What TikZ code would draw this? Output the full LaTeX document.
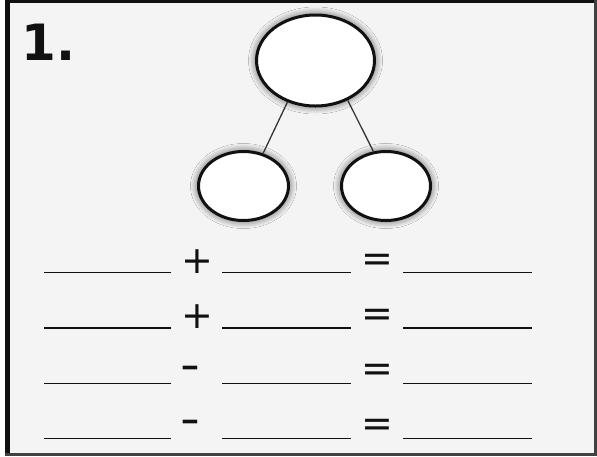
\documentclass[tikz,border=0pt]{standalone}
\usepackage{fontspec}
\newfontfamily\symfont{DejaVu Sans}
\newfontfamily\numfont{DejaVu Sans}
\usetikzlibrary{shapes.geometric,shadows.blur}
\definecolor{paper}{HTML}{F4F4F4}
\definecolor{ink}{HTML}{111111}
\tikzset{
  bubble/.style={ellipse, draw=ink, line width=3pt, fill=white, inner sep=0pt,
    blur shadow={shadow xshift=0pt, shadow yshift=0pt, shadow blur radius=8pt,
      shadow opacity=70, shadow scale=1, shadow blur steps=20}},
  link/.style={draw=ink!85, line width=1.3pt},
  blank/.style={draw=ink, line width=1.8pt},
  sym/.style={inner sep=0pt, outer sep=0pt, anchor=base, text=ink, font=\symfont\fontsize{38}{38}\selectfont},
}
\begin{document}
\begin{tikzpicture}[x=1pt,y=-1pt]
\useasboundingbox (0,0) rectangle (597,456);
\fill[white] (0,0) rectangle (597,456);
\fill[paper] (7,1) rectangle (596,455);
% frame
\draw[ink, line width=5pt] (7.5,0) -- (7.5,456);
\draw[ink, line width=3.3pt] (5,1.65) -- (597,1.65);
\draw[ink!80, line width=3pt] (595.5,0) -- (595.5,456);
\draw[ink!80, line width=3pt] (5,454.5) -- (597,454.5);
% title
\node[anchor=base west, inner sep=0pt, text=ink, font=\numfont\bfseries\fontsize{50}{50}\selectfont] (num) at (21,60) {1.};
% bubbles
\node[bubble, minimum width=118pt, minimum height=91pt] (top) at (315.5,60.5) {};
\node[bubble, minimum width=90pt, minimum height=69pt] (left) at (243.5,186) {};
\node[bubble, minimum width=89pt, minimum height=69pt] (right) at (386,186) {};
\path[link] (top.236) -- (left.59);
\path[link] (top.309) -- (right.110);
% rows
\foreach \y/\c [count=\i] in {272.5/260, 328/314.5}{
  \node[sym] (op\i) at (197,\c+13.7) {+};
}
\foreach \c [count=\i from 3] in {369, 423}{
  \node[sym] (op\i) at (190.5,\c+11.5) {\scalebox{1.45}[1.2]{-}};
}
\foreach \y/\ey [count=\i] in {272.5/259.5, 328/314, 383.5/369.5, 438.5/424.5}{
  \draw[blank] (44,\y) -- (171,\y);
  \draw[blank] (222,\y) -- (351,\y);
  \draw[blank] (403,\y) -- (532,\y);
  \node[sym] (eq\i) at (377.5,\ey+12) {=};
}
\end{tikzpicture}
\end{document}
